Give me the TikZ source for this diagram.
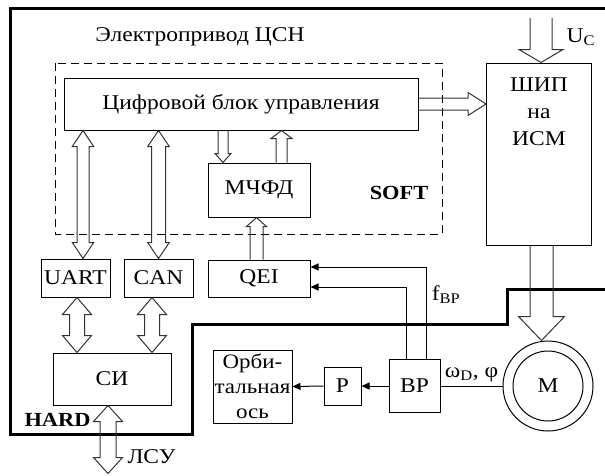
\documentclass[tikz,border=0pt]{standalone}
\usepackage{fontspec}
\setmainfont[FakeStretch=1.12]{Liberation Serif}
\usetikzlibrary{arrows.meta,calc}

% hollow block arrow: from #1 to #2, shaft half width #3, head half width #4, head length #5
\newcommand{\blockarrow}[5]{%
  \coordinate (ba-a) at (#1);
  \coordinate (ba-b) at (#2);
  \coordinate (ba-c) at ($(ba-b)!#5!(ba-a)$);
  \draw[blockline] ($(ba-a)!#3!90:(ba-b)$) -- ($(ba-c)!#3!90:(ba-b)$)
    -- ($(ba-c)!#4!90:(ba-b)$) -- (ba-b) -- ($(ba-c)!#4!-90:(ba-b)$)
    -- ($(ba-c)!#3!-90:(ba-b)$) -- ($(ba-a)!#3!-90:(ba-b)$);
}
% hollow block arrow with two heads
\newcommand{\dblockarrow}[5]{%
  \coordinate (ba-a) at (#1);
  \coordinate (ba-b) at (#2);
  \coordinate (ba-c) at ($(ba-b)!#5!(ba-a)$);
  \coordinate (ba-d) at ($(ba-a)!#5!(ba-b)$);
  \draw[blockline] (ba-a) -- ($(ba-d)!#4!90:(ba-b)$) -- ($(ba-d)!#3!90:(ba-b)$)
    -- ($(ba-c)!#3!90:(ba-b)$) -- ($(ba-c)!#4!90:(ba-b)$) -- (ba-b)
    -- ($(ba-c)!#4!-90:(ba-b)$) -- ($(ba-c)!#3!-90:(ba-b)$)
    -- ($(ba-d)!#3!-90:(ba-b)$) -- ($(ba-d)!#4!-90:(ba-b)$) -- cycle;
}

\begin{document}
\begin{tikzpicture}[x=1pt, y=-1pt,
    font=\fontsize{21}{24}\selectfont,
    box/.style={draw, line width=1pt, inner sep=0pt},
    blockline/.style={line width=1pt, line join=miter, draw=black!80},
    sig/.style={line width=1pt, -{Triangle[length=8pt, width=7pt]}},
    border/.style={line width=3pt, line join=miter},
    softline/.style={line width=1pt, dash pattern=on 8pt off 5pt}]
  \useasboundingbox (0,0) rectangle (605,475);
  % HARD / SOFT borders
  \draw[border] (605,289) -- (507,289) -- (507,324) -- (192,324) -- (192,434)
    -- (10,434) -- (10,8) -- (605,8);
  \draw[softline] (55,63) rectangle (442,234);
  % Labels of areas
  \node (title) at (200,37) {Электропривод ЦСН};
  \node[font=\fontsize{20}{23}\selectfont\bfseries] (soft) at (399,193) {SOFT};
  \node[font=\fontsize{20}{23}\selectfont\bfseries] (hard) at (57.5,420) {HARD};
  % Blocks
  \node[box, minimum width=354pt, minimum height=52pt] (ctrl) at (241,104)
    {Цифровой блок управления};
  \node[box, minimum width=105pt, minimum height=182pt,
        label={[anchor=north, align=center, yshift=-12pt,
                font=\fontsize{21}{27}\selectfont]north:ШИП\\на\\ИСМ}]
    (ship) at (539,154) {};
  \node[box, minimum width=102pt, minimum height=54pt] (mfd) at (259,190) {МЧФД};
  \node[box, minimum width=69pt, minimum height=38pt] (uart) at (75.5,278) {UART};
  \node[box, minimum width=69pt, minimum height=38pt] (can) at (158.5,278) {CAN};
  \node[box, minimum width=102pt, minimum height=37pt] (qei) at (259,278.5) {QEI};
  \node[box, minimum width=118pt, minimum height=52pt] (si) at (112,379) {СИ};
  \node[box, minimum width=79pt, minimum height=73pt, align=center,
        font=\fontsize{20.5}{25}\selectfont] (orb) at (252.5,386.5)
    {Орби-\\тальная\\ось};
  \node[box, minimum width=37pt, minimum height=38pt] (p) at (342.5,386) {Р};
  \node[box, minimum width=51pt, minimum height=53pt] (vr) at (414.5,386) {ВР};
  \node[box, circle, minimum size=90pt] (motor) at (548,386) {};
  \draw[line width=1pt] (motor) circle (35pt);
  \node (mlabel) at (motor) {М};
  % Block arrows
  \blockarrow{ctrl.east}{ctrl.east -| ship.west}{6pt}{11.5pt}{18pt}
  \coordinate (uc) at (541,18);
  \blockarrow{uc}{uc |- ship.north}{11pt}{22pt}{13pt}
  \node[anchor=west] (uclabel) at (563,37) {U\textsubscript{С}};
  \coordinate (s1) at ([xshift=2.5pt]ship.south);
  \blockarrow{s1}{s1 |- motor.north}{11.5pt}{23pt}{24pt}
  \coordinate (m1) at ([xshift=-36pt]mfd.north);
  \blockarrow{m1 |- ctrl.south}{m1}{5pt}{8pt}{9pt}
  \coordinate (m2) at ([xshift=22.5pt]mfd.north);
  \blockarrow{m2}{m2 |- ctrl.south}{5.5pt}{10.5pt}{8pt}
  \coordinate (q1) at ([xshift=-2.5pt]qei.north);
  \blockarrow{q1}{q1 |- mfd.south}{6.5pt}{10pt}{9pt}
  \coordinate (u1) at ([xshift=7.5pt]uart.north);
  \dblockarrow{u1 |- ctrl.south}{u1}{6pt}{10.7pt}{16pt}
  \dblockarrow{can.north |- ctrl.south}{can.north}{7pt}{10.8pt}{16pt}
  \coordinate (u2) at ([xshift=1.5pt]uart.south);
  \dblockarrow{u2}{u2 |- si.north}{7.5pt}{14.5pt}{17pt}
  \coordinate (c3) at ([xshift=-6.5pt]can.south);
  \dblockarrow{c3}{c3 |- si.north}{7.5pt}{14.5pt}{17pt}
  \coordinate (l1) at ([xshift=-4pt]si.south);
  \coordinate (lsu) at ([yshift=-68pt]l1);
  \dblockarrow{l1}{lsu}{8pt}{14.5pt}{16pt}
  \node[anchor=west] (lsulabel) at (124,457) {ЛСУ};
  % Signals
  \draw[sig] ([xshift=11.5pt]vr.north) |- ([yshift=11.5pt]qei.east)
    node[pos=0.35, right, xshift=2pt] {f\textsubscript{ВР}};
  \draw[sig] ([xshift=-8.5pt]vr.north) |- ([yshift=-8.5pt]qei.east);
  \draw[sig] (vr.west) -- (p.east);
  \draw[sig] (p.west) -- (orb.east);
  \draw[line width=1pt] (vr.east) -- (motor.west)
    node[midway, above] {ω\textsubscript{D}, φ};
\end{tikzpicture}
\end{document}
